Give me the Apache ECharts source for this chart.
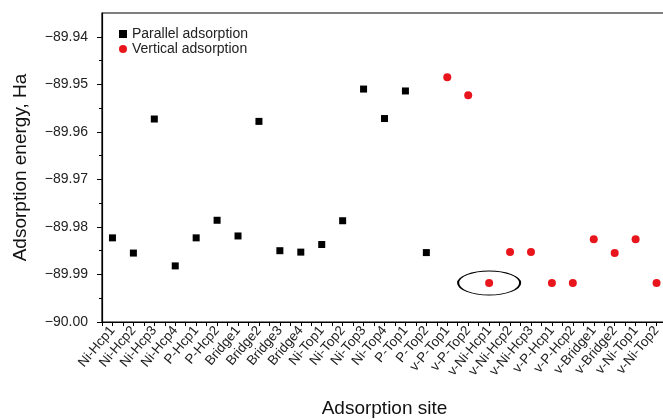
<!DOCTYPE html>
<html>
<head>
<meta charset="utf-8">
<script src="https://cdn.jsdelivr.net/npm/echarts@6/dist/echarts.min.js"></script>
<style>
  html, body { margin: 0; padding: 0; background: #fff; }
  #chart { width: 663px; height: 419px; }
</style>
</head>
<body>
<div id="chart"></div>
<script>
// Adsorption sites along the x axis (parallel first, then vertical)
const sites = [
  'Ni-Hcp1', 'Ni-Hcp2', 'Ni-Hcp3', 'Ni-Hcp4', 'P-Hcp1', 'P-Hcp2',
  'Bridge1', 'Bridge2', 'Bridge3', 'Bridge4',
  'Ni-Top1', 'Ni-Top2', 'Ni-Top3', 'Ni-Top4', 'P-Top1', 'P-Top2',
  'v-P-Top1', 'v-P-Top2', 'v-Ni-Hcp1', 'v-Ni-Hcp2', 'v-Ni-Hcp3',
  'v-P-Hcp1', 'v-P-Hcp2', 'v-Bridge1', 'v-Bridge2', 'v-Ni-Top1', 'v-Ni-Top2'
];

// Parallel adsorption energies (Ha)
const parallelSites = sites.slice(0, 16);
const parallelEnergy = [
  -89.9823, -89.9855, -89.9573, -89.9882, -89.9823, -89.9786,
  -89.9819, -89.9578, -89.9850, -89.9853,
  -89.9837, -89.9787, -89.9510, -89.9572, -89.9514, -89.9854
];

// Vertical adsorption energies (Ha)
const verticalSites = sites.slice(16);
const verticalEnergy = [
  -89.9485, -89.9523, -89.9918, -89.9853, -89.9853,
  -89.9918, -89.9918, -89.9826, -89.9855, -89.9826, -89.9918
];

// Site singled out with an ellipse
const highlightSite = 'v-Ni-Hcp1';

// Energy axis tick labels
const yTickLabels = ['-90.00', '-89.99', '-89.98', '-89.97', '-89.96', '-89.95', '-89.94'];

const yMajor = yTickLabels.map(Number);
const yMinor = yMajor.slice(0, -1).map(v => +(v + 0.005).toFixed(3));

const pos = name => sites.indexOf(name) + 1;
const parallelData = parallelSites.map((s, i) => [pos(s), parallelEnergy[i]]);
const verticalData = verticalSites.map((s, i) => [pos(s), verticalEnergy[i]]);
const highlightData = [[pos(highlightSite), verticalEnergy[verticalSites.indexOf(highlightSite)]]];

const font = '"Liberation Sans", Arial, sans-serif';
const chart = echarts.init(document.getElementById('chart'));

const yBase = {
  type: 'value',
  min: -90.00, max: -89.935,
  splitLine: { show: false },
  position: 'left'
};

chart.setOption({
  animation: false,
  textStyle: { fontFamily: font },
  grid: {
    left: 102, top: 13, bottom: 97, right: -4,
    outerBoundsMode: 'none',
    show: true, borderColor: '#000', borderWidth: 1.2,
    containLabel: false
  },
  legend: {
    data: [
      { name: 'Parallel adsorption', icon: 'rect' },
      { name: 'Vertical adsorption', icon: 'circle' }
    ],
    orient: 'vertical',
    left: 114, top: 22,
    itemWidth: 8, itemHeight: 8, itemGap: 1,
    textStyle: { fontFamily: font, fontSize: 14, color: '#222' }
  },
  xAxis: {
    type: 'value',
    min: 0.5, max: 27.5, interval: 0.5,
    name: 'Adsorption site',
    nameLocation: 'middle', nameGap: 77,
    nameTextStyle: { fontFamily: font, fontSize: 19, color: '#111' },
    splitLine: { show: false },
    axisLine: { onZero: false, lineStyle: { color: '#000', width: 1.2 } },
    axisTick: { show: true, length: 4, lineStyle: { color: '#000', width: 1 } },
    axisLabel: {
      rotate: 50, margin: 6, fontSize: 13.5, color: '#222', fontFamily: font,
      showMinLabel: true, showMaxLabel: true, interval: 0,
      formatter: v => (Math.abs(v - Math.round(v)) < 1e-6 && v >= 1 && v <= sites.length) ? sites[Math.round(v) - 1] : ''
    }
  },
  yAxis: [
    Object.assign({}, yBase, {
      name: 'Adsorption energy, Ha',
      nameLocation: 'middle', nameGap: 72,
      nameTextStyle: { fontFamily: font, fontSize: 19, color: '#111' },
      axisLine: { show: true, onZero: false, lineStyle: { color: '#000', width: 1.2 } },
      axisTick: { show: true, length: 5, customValues: yMajor, lineStyle: { color: '#000', width: 1 } },
      axisLabel: {
        margin: 14, fontSize: 14, color: '#222', fontFamily: font,
        customValues: yMajor,
        formatter: v => v.toFixed(2).replace('-', '\u2212')
      }
    }),
    Object.assign({}, yBase, {
      axisLine: { show: false },
      axisTick: { show: true, length: 3, customValues: yMinor, lineStyle: { color: '#000', width: 1 } },
      axisLabel: { show: false }
    })
  ],
  series: [
    {
      name: 'Parallel adsorption',
      type: 'scatter',
      symbol: 'rect', symbolSize: 7,
      itemStyle: { color: '#000', opacity: 1 },
      data: parallelData
    },
    {
      name: 'Vertical adsorption',
      type: 'scatter',
      symbol: 'circle', symbolSize: 8,
      itemStyle: { color: '#e8161c', opacity: 1 },
      data: verticalData
    },
    {
      name: 'highlight',
      type: 'scatter',
      silent: true,
      symbol: 'circle', symbolSize: [62, 24],
      itemStyle: { color: 'rgba(0,0,0,0)', borderColor: '#000', borderWidth: 1.3, opacity: 1 },
      z: 1,
      data: highlightData
    }
  ]
});
</script>
</body>
</html>
